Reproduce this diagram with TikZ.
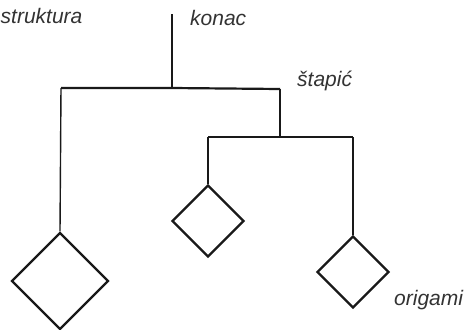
\documentclass[tikz,border=0pt]{standalone}
\usepackage{fontspec}
\setmainfont{Liberation Sans}
\usetikzlibrary{shapes.geometric}
\begin{document}
\begin{tikzpicture}[x=1pt,y=-1pt,
  kite/.style={draw=black!90, line width=2.4pt, diamond, aspect=1, inner sep=0pt, line join=miter},
  wire/.style={draw=black!90, line width=1.4pt},
  bar/.style={draw=black!90, line width=2.2pt},
  lbl/.style={font=\fontsize{21}{23}\selectfont\itshape, text=black!80, inner sep=0pt}]
\useasboundingbox (0,0) rectangle (475,330);
% coordinates
\coordinate (top) at (172,14);
\coordinate (j1) at (172,88);
\coordinate (b1l) at (61,88);
\coordinate (b1r) at (280,89);
\coordinate (j2) at (280,137);
\coordinate (b2l) at (208,137);
\coordinate (b2r) at (353,137);
% diamonds
\node[kite, minimum width=97pt, minimum height=97pt] (d1) at (60,281) {};
\node[kite, minimum width=72pt, minimum height=72pt] (d2) at (208,221) {};
\node[kite, minimum width=72pt, minimum height=72pt] (d3) at (353,272) {};
% connectors
\draw[wire] (top) -- (j1);
\draw[bar] (b1l) -- (j1) -- (b1r);
\draw[wire] (b1r) -- (j2);
\draw[bar] (b2l) -- (j2) -- (b2r);
\draw[wire] (b1l) -- (d1.north);
\draw[wire] (b2l) -- (d2.north);
\draw[wire] (b2r) -- (d3.north);
% labels
\node[lbl, anchor=west] (ls) at (0.5,16) {struktura};
\node[lbl, anchor=west] (lk) at (190,18) {konac};
\node[lbl, anchor=west] (lt) at (297,81) {štapić};
\node[lbl, anchor=west] (lo) at (394,300) {origami};
\end{tikzpicture}
\end{document}
